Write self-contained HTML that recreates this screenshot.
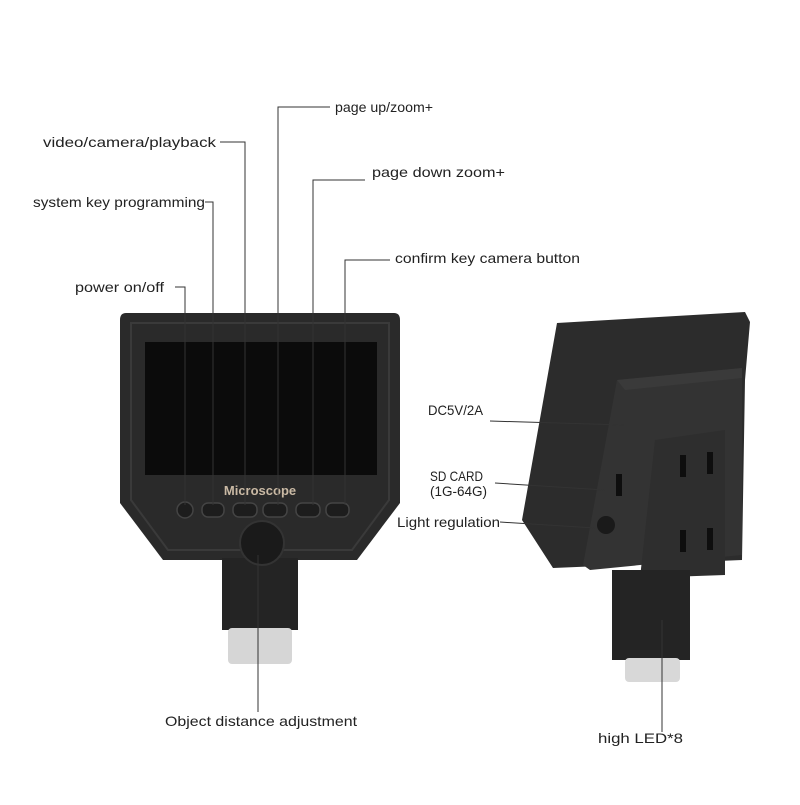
<!DOCTYPE html>
<html><head><style>
body{margin:0;background:#fff;}
svg text{font-family:"Liberation Sans",sans-serif;font-size:14px;fill:#222;}
</style></head><body>
<svg width="800" height="800" viewBox="0 0 800 800" xmlns="http://www.w3.org/2000/svg">
<rect width="800" height="800" fill="#fff"/>
<!-- left device -->
<path d="M126,313 L394,313 Q400,313 400,320 L400,503 L357,560 L163,560 L120,503 L120,320 Q120,313 126,313Z" fill="#2a2a2a"/>
<path d="M131,323 L389,323 L389,500 L352,550 L168,550 L131,500Z" fill="none" stroke="#3a3a3a" stroke-width="2"/>
<rect x="145" y="342" width="232" height="133" fill="#0b0b0b"/>
<text x="260" y="495" text-anchor="middle" style="font-weight:bold;font-size:13px;fill:#c9b9a4">Microscope</text>
<g fill="#1d1d1d" stroke="#444" stroke-width="1.5">
<circle cx="185" cy="510" r="8"/>
<rect x="202" y="503" width="22" height="14" rx="6"/>
<rect x="233" y="503" width="24" height="14" rx="6"/>
<rect x="263" y="503" width="24" height="14" rx="6"/>
<rect x="296" y="503" width="24" height="14" rx="6"/>
<rect x="326" y="503" width="23" height="14" rx="6"/>
</g>
<rect x="222" y="558" width="76" height="72" fill="#242424"/>
<rect x="228" y="628" width="64" height="36" rx="4" fill="#d6d6d6"/>
<circle cx="262" cy="543" r="22" fill="#1a1a1a" stroke="#333" stroke-width="2"/>
<!-- right device -->
<path d="M557,323 L745,312 L750,322 L745,380 L742,560 L553,568 L522,520 Z" fill="#2c2c2c"/>
<path d="M617,380 L742,368 L742,555 L590,570 L583,565 Z" fill="#333"/>
<path d="M617,380 L742,368 L742,378 L625,390 Z" fill="#3a3a3a"/>
<path d="M655,440 L725,430 L725,575 L640,578 Z" fill="#2e2e2e"/>
<g fill="#0e0e0e">
<rect x="680" y="455" width="6" height="22"/><rect x="707" y="452" width="6" height="22"/>
<rect x="680" y="530" width="6" height="22"/><rect x="707" y="528" width="6" height="22"/>
<rect x="616" y="474" width="6" height="22"/>
</g>
<circle cx="606" cy="525" r="9" fill="#1a1a1a"/>
<rect x="612" y="570" width="78" height="90" fill="#242424"/>
<rect x="625" y="658" width="55" height="24" rx="4" fill="#d8d8d8"/>
<!-- leader lines -->
<g stroke="#333" stroke-width="1" fill="none">
<path d="M330,107 H278 V505"/>
<path d="M220,142 H245 V505"/>
<path d="M205,202 H213 V505"/>
<path d="M175,287 H185 V505"/>
<path d="M365,180 H313 V505"/>
<path d="M390,260 H345 V505"/>
<path d="M258,555 V712"/>
<path d="M490,421 L625,425"/>
<path d="M495,483 L605,490"/>
<path d="M500,522 L595,528"/>
<path d="M662,620 V732"/>
</g>
<g lengthAdjust="spacingAndGlyphs">
<text x="335" y="112" textLength="98" lengthAdjust="spacingAndGlyphs">page up/zoom+</text>
<text x="43" y="147" textLength="173" lengthAdjust="spacingAndGlyphs">video/camera/playback</text>
<text x="372" y="177" textLength="133" lengthAdjust="spacingAndGlyphs">page down zoom+</text>
<text x="33" y="207" textLength="172" lengthAdjust="spacingAndGlyphs">system key programming</text>
<text x="395" y="263" textLength="185" lengthAdjust="spacingAndGlyphs">confirm key camera button</text>
<text x="75" y="292" textLength="89" lengthAdjust="spacingAndGlyphs">power on/off</text>
<text x="428" y="415" textLength="55" lengthAdjust="spacingAndGlyphs">DC5V/2A</text>
<text x="430" y="481" textLength="53" lengthAdjust="spacingAndGlyphs">SD CARD</text>
<text x="430" y="496" textLength="57" lengthAdjust="spacingAndGlyphs">(1G-64G)</text>
<text x="397" y="527" textLength="103" lengthAdjust="spacingAndGlyphs">Light regulation</text>
<text x="165" y="726" textLength="192" lengthAdjust="spacingAndGlyphs">Object distance adjustment</text>
<text x="598" y="743" textLength="85" lengthAdjust="spacingAndGlyphs">high LED*8</text>
</g>
</svg>
</body></html>
